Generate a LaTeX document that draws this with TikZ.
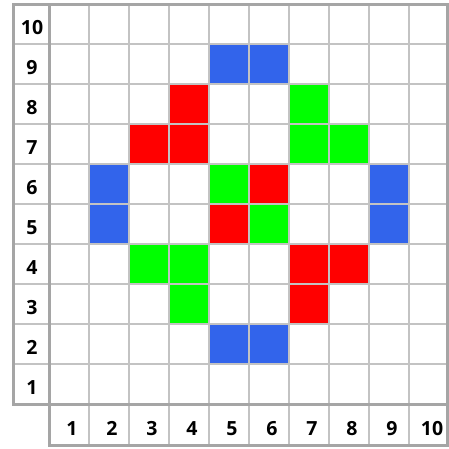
\documentclass[tikz,border=0pt]{standalone}
\usepackage{fontspec}
\setmainfont{Open Sans}
\definecolor{cblue}{RGB}{50,100,235}
\definecolor{cred}{RGB}{255,0,0}
\definecolor{cgreen}{RGB}{0,255,0}
\definecolor{gline}{RGB}{195,195,195}
\definecolor{gborder}{RGB}{165,165,165}
\begin{document}
\begin{tikzpicture}[x=1pt,y=-1pt,
  lbl/.style={font=\fontsize{19.5}{19.5}\selectfont\bfseries, inner sep=0pt, text=black, anchor=base},
  gridline/.style={draw=gline, line width=1.6pt},
  border/.style={draw=gborder, line width=3pt}]
\useasboundingbox (0,0) rectangle (449,448);
% coloured cells
\foreach \c/\r/\col in {5/9/cblue,6/9/cblue,2/6/cblue,2/5/cblue,9/6/cblue,9/5/cblue,5/2/cblue,6/2/cblue,
  4/8/cred,3/7/cred,4/7/cred,6/6/cred,5/5/cred,7/4/cred,8/4/cred,7/3/cred,
  7/8/cgreen,7/7/cgreen,8/7/cgreen,5/6/cgreen,6/5/cgreen,3/4/cgreen,4/4/cgreen,4/3/cgreen}{
  \fill[\col] ({49+40*(\c-1)+1},{4+40*(10-\r)+1}) rectangle ++(38,38);
}
% inner grid lines
\foreach \i in {1,...,9}{
  \draw[gridline] ({49+40*\i},4) -- ({49+40*\i},445);
  \draw[gridline] (13,{4+40*\i}) -- (447.5,{4+40*\i});
}
% borders
\draw[border] (13,4) -- (447.5,4) -- (447.5,445) -- (49,445) -- (49,404) -- (13,404) -- cycle;
\draw[border] (49,4) -- (49,404) -- (447.5,404);
% row labels
\foreach \r in {1,...,10}{
  \node[lbl] (row\r) at (32,{34+40*(10-\r)}) {\r};
}
% column labels
\foreach \c in {1,...,10}{
  \node[lbl] (col\c) at ({72+40*(\c-1)},435) {\c};
}
\end{tikzpicture}
\end{document}
